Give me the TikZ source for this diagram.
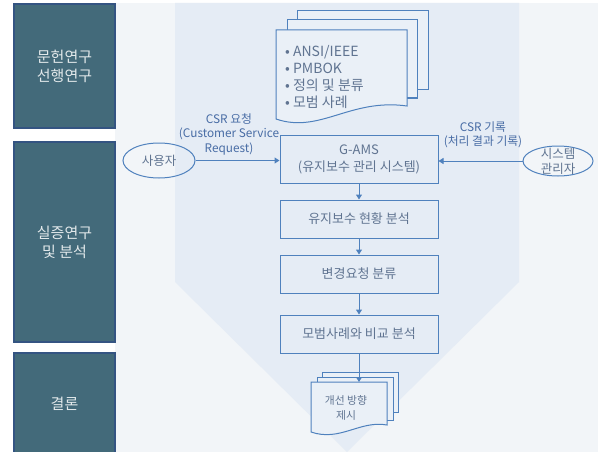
\documentclass[tikz,border=0pt]{standalone}
\usepackage{fontspec}
\setmainfont{Noto Sans CJK KR}
\usetikzlibrary{arrows.meta,shapes.geometric}
\definecolor{outerbg}{RGB}{242,245,248}
\definecolor{chev}{RGB}{229,236,245}
\definecolor{darkfill}{RGB}{67,106,122}
\definecolor{darkedge}{RGB}{52,84,130}
\definecolor{linec}{RGB}{79,129,189}
\definecolor{txt}{RGB}{96,116,145}
\definecolor{lbl}{RGB}{72,108,165}
\definecolor{paper}{RGB}{234,240,247}
\begin{document}
\begin{tikzpicture}[x=1pt,y=-1pt,
  phase/.style={draw=darkedge, line width=1.2pt, fill=darkfill, text=white!85!darkfill,
    font=\fontsize{15}{19}\selectfont, align=center, minimum width=101pt, inner sep=0pt},
  flowbox/.style={draw=linec, line width=1pt, fill=chev, text=txt,
    font=\fontsize{13}{17}\selectfont, align=center, minimum width=158pt, inner sep=0pt},
  actor/.style={ellipse, draw=linec, line width=1pt, inner sep=0pt},
  actortext/.style={text=txt, inner sep=0pt, font=\fontsize{12.5}{15}\selectfont, align=center},
  lab/.style={text=lbl, font=\fontsize{11.8}{14.5}\selectfont, align=center, inner sep=0pt},
  page/.style={draw=linec, line width=1pt, fill=paper},
  flow/.style={draw=linec, line width=1pt, -{Triangle[width=6pt,length=5pt]}}
]
\useasboundingbox (0,0) rectangle (600,452);
\fill[white] (0,0) rectangle (600,452);
\fill[outerbg] (115,3) rectangle (598,452);
\fill[chev] (175,3) -- (519,3) -- (519,282) -- (347,452) -- (175,282) -- cycle;

% phase boxes
\node[phase, minimum height=124pt] (p1) at (64.5,66) {문헌연구\\선행연구};
\node[phase, minimum height=200pt] (p2) at (64.5,242) {실증연구\\및 분석};
\node[phase, minimum height=102pt] (p3) at (64.5,404) {결론};

% top document stack
\draw[page] (297,11) rectangle (428,90);
\draw[page] (287,20) rectangle (417,98);
\draw[page] (276,30) -- (407,30) -- (407,106) .. controls (350,98) and (320,134) .. (276,119) -- cycle;
\node[anchor=west, align=left, text=txt, inner sep=0pt,
  font=\fontsize{14}{17}\selectfont] (refs) at (285,77)
  {• ANSI/IEEE\\• PMBOK\\• 정의 및 분류\\• 모범 사례};

% flow boxes
\node[flowbox, minimum height=48pt] (gams) at (359,159) {G-AMS\\(유지보수 관리 시스템)};
\node[flowbox, minimum height=38pt] (b2) at (359,219) {유지보수 현황 분석};
\node[flowbox, minimum height=38pt] (b3) at (359,274) {변경요청 분류};
\node[flowbox, minimum height=38pt] (b4) at (359,334) {모범사례와 비교 분석};

% bottom document stack
\draw[page] (322,372) rectangle (398,412);
\draw[page] (317,377) rectangle (393,420);
\draw[page] (311,382) -- (387,382) -- (387,425) .. controls (360,420) and (340,442) .. (311,432) -- cycle;
\coordinate (doctop) at (359,382);
\node[text=txt, align=center, inner sep=0pt, font=\fontsize{10.8}{15}\selectfont] (plan) at (346,407.5) {개선 방향\\제시};

% actors
\node[actor, minimum width=72pt, minimum height=35pt] (user) at (159,160.5) {};
\node[actortext] (usertext) at (user.center) {사용자};
\node[actor, minimum width=70pt, minimum height=30pt] (admin) at (558,161) {};
\node[actortext] (admintext) at (admin.center) {시스템\\관리자};

% labels
\node[lab] (req) at (229,134) {CSR 요청\\(Customer Service\\Request)};
\node[lab] (rec) at (483,135) {CSR 기록\\(처리 결과 기록)};

% connectors
\draw[flow] (user.east) -- (user.east -| gams.west);
\draw[flow] (admin.west) -- (admin.west -| gams.east);
\draw[flow] (gams.south) -- (b2.north);
\draw[flow] (b2.south) -- (b3.north);
\draw[flow] (b3.south) -- (b4.north);
\draw[flow] (b4.south) -- (doctop);
\end{tikzpicture}
\end{document}
